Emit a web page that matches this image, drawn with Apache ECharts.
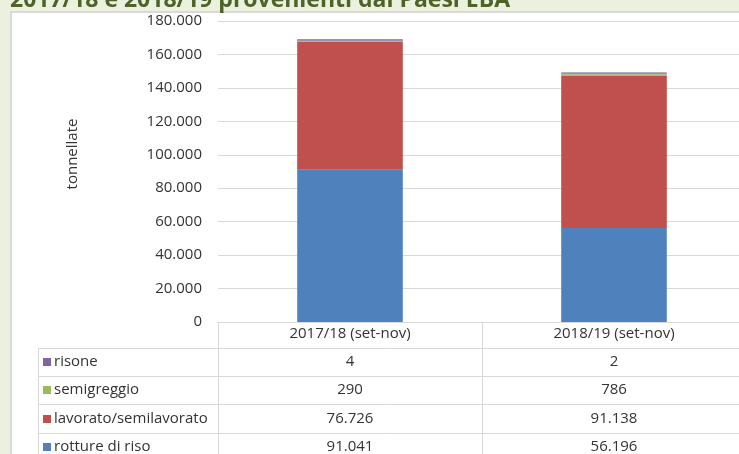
<!DOCTYPE html>
<html>
<head>
<meta charset="utf-8">
<script src="https://cdn.jsdelivr.net/npm/echarts/dist/echarts.min.js"></script>
<style>
  html, body { margin: 0; padding: 0; background: #ebf1de; overflow: hidden; }
  #box { position: absolute; left: 10px; top: 11px; width: 760px; height: 480px;
         background: #fff; border: 2px solid #d9d9d9; box-sizing: border-box; }
  #chart { position: absolute; left: 0; top: 0; width: 739px; height: 454px; }
</style>
</head>
<body>
<div id="box"></div>
<div id="chart"></div>
<script>
const titleText = '2017/18 e 2018/19 provenienti dai Paesi EBA'
const categories = ['2017/18 (set-nov)', '2018/19 (set-nov)']
// serie nell'ordine della tabella (dall'alto)
const seriesNames = ['risone', 'semigreggio', 'lavorato/semilavorato', 'rotture di riso']
const risone = [4, 2]
const semigreggio = [290, 786]
const lavorato = [76726, 91138]
const rotture = [91041, 56196]
const colors = ['#8064a2', '#9bbb59', '#c0504d', '#4f81bd']

const FONT = '"Open Sans", sans-serif'
const rowY = [362, 390, 419, 447] // centri delle righe della tabella
const rowLines = [348.5, 376.5, 404.5, 433.5]

function fmt(v) {
  return String(v).replace(/\B(?=(\d{3})+(?!\d))/g, '.')
}

const chart = echarts.init(document.getElementById('chart'))

const tableValues = [risone, semigreggio, lavorato, rotture]

chart.setOption({
  animation: false,
  textStyle: { fontFamily: FONT },
  grid: { left: 218, width: 528, top: 21, bottom: 132, outerBoundsMode: 'none', containLabel: false },
  xAxis: {
    type: 'category',
    data: categories,
    axisLine: { lineStyle: { color: '#d9d9d9', width: 1 } },
    axisTick: { show: true, length: 160, lineStyle: { color: '#d9d9d9' } },
    axisLabel: { color: '#333', fontSize: 15, margin: 4, fontFamily: FONT },
  },
  yAxis: {
    type: 'value',
    min: 0,
    max: 180000,
    interval: 20000,
    axisLine: { show: false },
    axisTick: { show: false },
    axisLabel: { color: '#333', fontSize: 15, margin: 16, formatter: fmt, fontFamily: FONT },
    splitLine: { lineStyle: { color: '#d9d9d9', width: 1 } },
  },
  series: [
    { name: 'rotture di riso', type: 'bar', stack: 't', data: rotture, color: colors[3], barWidth: '40%' },
    { name: 'lavorato/semilavorato', type: 'bar', stack: 't', data: lavorato, color: colors[2] },
    { name: 'semigreggio', type: 'bar', stack: 't', data: semigreggio, color: colors[1], barMinHeight: 1 },
    { name: 'risone', type: 'bar', stack: 't', data: risone, color: '#9a94ab', barMinHeight: 2 },
  ],
})

// titolo, nome asse e tabella dati sotto l'asse
const graphic = [
  {
    type: 'text', left: 10, top: -11,
    style: { text: titleText, fill: '#4f6228', font: 'bold 23px ' + FONT },
  },
  {
    type: 'text', x: 73, y: 154, rotation: Math.PI / 2,
    style: { text: 'tonnellate', fill: '#333', font: '15px ' + FONT, align: 'center', verticalAlign: 'middle' },
  },
  {
    type: 'line', shape: { x1: 38.5, y1: 348, x2: 38.5, y2: 460 },
    style: { stroke: '#d9d9d9', lineWidth: 1 },
  },
]
rowLines.forEach(y => {
  graphic.push({ type: 'line', shape: { x1: 38, y1: y, x2: 739, y2: y }, style: { stroke: '#d9d9d9', lineWidth: 1 } })
})
seriesNames.forEach((name, i) => {
  graphic.push({ type: 'rect', shape: { x: 43, y: rowY[i] - 4, width: 8, height: 8 }, style: { fill: colors[i] } })
  graphic.push({
    type: 'text', x: 54, y: rowY[i],
    style: { text: name, fill: '#333', font: '15px ' + FONT, verticalAlign: 'middle', align: 'left' },
  })
  categories.forEach((c, j) => {
    const px = chart.convertToPixel({ xAxisIndex: 0 }, c)
    graphic.push({
      type: 'text', x: px, y: rowY[i],
      style: { text: fmt(tableValues[i][j]), fill: '#333', font: '15px ' + FONT, verticalAlign: 'middle', align: 'center' },
    })
  })
})
chart.setOption({ graphic })
</script>
</body>
</html>
